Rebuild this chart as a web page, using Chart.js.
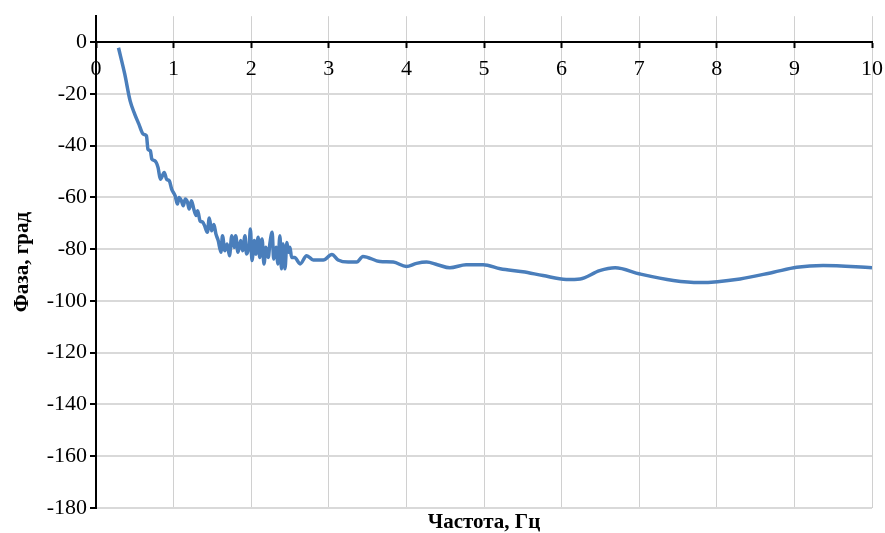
<!DOCTYPE html>
<html>
<head>
<meta charset="utf-8">
<script src="https://cdn.jsdelivr.net/npm/chart.js@4.4.1/dist/chart.umd.min.js"></script>
<style>
  html, body { margin: 0; padding: 0; background: #fff; }
  #wrap { width: 885px; height: 533px; }
</style>
</head>
<body>
<div id="wrap"><canvas id="myChart" width="885" height="533"></canvas></div>
<script>
// Frequency, Hz
const freq = [
    0.29, 0.37, 0.44, 0.50, 0.55, 0.61, 0.65, 0.67, 0.70, 0.72, 0.76, 0.80, 0.83, 0.88, 0.91, 0.945, 0.975,
    1.02, 1.05, 1.07, 1.10, 1.125, 1.15, 1.18, 1.20, 1.23, 1.26, 1.29, 1.31, 1.34, 1.375, 1.40, 1.435, 1.46, 1.49,
    1.52, 1.545, 1.575, 1.61, 1.63, 1.66, 1.69, 1.72, 1.75, 1.78, 1.80, 1.83, 1.865, 1.89, 1.92, 1.94, 1.975, 1.99,
    2.01, 2.04, 2.06, 2.09, 2.11, 2.14, 2.165, 2.19, 2.22, 2.24, 2.27, 2.29, 2.32, 2.345, 2.37, 2.39, 2.41, 2.435,
    2.46, 2.48, 2.50, 2.52, 2.56, 2.63, 2.715, 2.80, 2.93, 3.04, 3.12, 3.25, 3.36, 3.44, 3.66, 3.83, 4.0, 4.13,
    4.26, 4.4, 4.56, 4.77, 4.99, 5.21, 5.5, 5.76, 6.06, 6.24, 6.49, 6.69, 7.01, 7.44, 7.78, 8.3, 8.73, 9.03, 9.37, 10.0
];
// Phase, degrees
const phase = [
    -2.2, -12.3, -22.7, -27.9, -31.5, -35.6, -36.2, -41.4, -42, -45.2, -45.9, -48.5, -53, -50.4, -53, -53.6, -56.8,
    -59.4, -62.6, -60, -61.3, -63.2, -60.6, -61.9, -64.5, -61.3, -64.5, -67, -65.2, -69, -69.6, -71, -73.5, -68, -72.9,
    -70.5, -74.1, -76.7, -81.2, -74.8, -80.6, -78, -82.5, -74.8, -79.3, -74.8, -81.2, -76.7, -80.6, -74.8, -81.9, -78, -72.2,
    -84.4, -76.7, -81.9, -75.4, -83.2, -76.1, -85.7, -79.3, -83.2, -78, -73.5, -83.8, -79.3, -85.7, -74.8, -87.6, -78, -87.6,
    -77.4, -81.2, -79.3, -83.2, -83.2, -85.7, -82.5, -84.2, -84.2, -82.1, -84.2, -85, -85, -82.8, -84.8, -85, -86.7, -85.5,
    -85, -86, -87.2, -86, -86, -87.6, -88.7, -90.2, -91.7, -91.5, -88.3, -87.2, -89.6, -92.1, -92.9, -91.5, -88.9, -87, -86.3, -87.2
];
const xTitle = 'Частота, Гц';
const yTitle = 'Фаза, град';

const serif = "'Liberation Serif', 'Times New Roman', serif";

// x axis sits on y = 0, so its title is drawn under the plot area by hand
const xTitlePlugin = {
    id: 'xTitle',
    afterDraw(chart) {
        const { ctx, chartArea } = chart;
        ctx.save();
        ctx.font = 'bold 21px ' + serif;
        ctx.fillStyle = '#000';
        ctx.textAlign = 'center';
        ctx.textBaseline = 'middle';
        ctx.fillText(xTitle, (chartArea.left + chartArea.right) / 2, chartArea.bottom + 15);
        ctx.restore();
    }
};

new Chart(document.getElementById('myChart').getContext('2d'), {
    type: 'scatter',
    data: {
        datasets: [{
            data: freq.map((f, i) => ({ x: f, y: phase[i] })),
            showLine: true,
            pointRadius: 0,
            borderColor: '#4a7ebb',
            borderWidth: 3.5,
            cubicInterpolationMode: 'monotone',
            fill: false
        }]
    },
    options: {
        responsive: false,
        animation: false,
        layout: { padding: { top: 15, right: 13, left: 0, bottom: 25 } },
        plugins: {
            legend: { display: false },
            tooltip: { enabled: false },
            title: { display: false }
        },
        scales: {
            x: {
                type: 'linear',
                position: { y: 0 },
                min: 0,
                max: 10,
                afterFit: ax => { ax.paddingLeft = 0; ax.paddingRight = 0; },
                ticks: {
                    stepSize: 1,
                    color: '#000',
                    font: { family: serif, size: 22 },
                    padding: 9,
                    maxRotation: 0
                },
                grid: {
                    color: '#d0d0d0',
                    lineWidth: 1,
                    tickColor: '#000',
                    tickLength: 5,
                    tickWidth: 2
                },
                border: { color: '#000', width: 2 }
            },
            y: {
                type: 'linear',
                position: 'left',
                min: -180,
                max: 10,
                afterBuildTicks: ax => { ax.ticks = ax.ticks.filter(t => t.value % 20 === 0); },
                afterFit: ax => { ax.width = 96; },
                ticks: {
                    stepSize: 20,
                    color: '#000',
                    font: { family: serif, size: 22 },
                    padding: 3
                },
                grid: {
                    color: '#d9d9d9',
                    lineWidth: 2,
                    tickColor: '#000',
                    tickLength: 6,
                    tickWidth: 2
                },
                border: { color: '#000', width: 2 },
                title: {
                    display: true,
                    text: yTitle,
                    color: '#000',
                    font: { family: serif, size: 21, weight: 'bold' },
                    padding: { top: 10, bottom: 0 }
                }
            }
        }
    },
    plugins: [xTitlePlugin]
});
</script>
</body>
</html>
